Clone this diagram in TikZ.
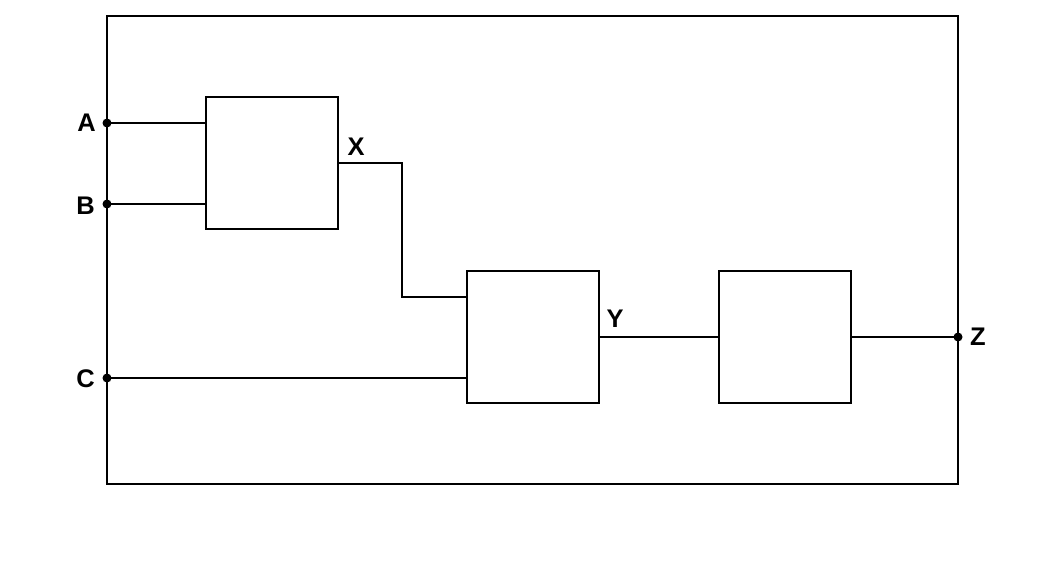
\documentclass[tikz,border=0pt]{standalone}
\usepackage{fontspec}
\setmainfont{Liberation Sans}
\usetikzlibrary{positioning,calc}

\tikzset{
  blk/.style={draw, line width=0.6pt, minimum width=2.64cm, minimum height=2.64cm, inner sep=0pt},
  wire/.style={line width=0.6pt},
  lbl/.style={font=\fontsize{14.5}{16}\selectfont\bfseries, inner sep=0pt},
  pin/.style={circle, fill, inner sep=0pt, minimum size=0.18cm}
}

\begin{document}
\begin{tikzpicture}[x=0.02cm, y=-0.02cm]
          \useasboundingbox (0, 0) rectangle (1050, 575);%
          % outer frame
          \draw [wire] (107, 16) rectangle (958, 484);%
          % blocks
          \node [blk] (g1) at (272, 163) {};%
          \node [blk] (g2) at (533, 337) {};%
          \node [blk] (g3) at (785, 337) {};%
          % terminals
          \node [pin] (pa) at (107, 123) {};%
          \node [pin] (pb) at (107, 204) {};%
          \node [pin] (pc) at (107, 378) {};%
          \node [pin] (pz) at (958, 337) {};%
          \node [lbl] (la) at (86.5, 123) {A};%
          \node [lbl] (lb) at (85.5, 206) {B};%
          \node [lbl] (lc) at (85.5, 379) {C};%
          \node [lbl] (lx) at (356, 147) {X};%
          \node [lbl] (ly) at (615, 319) {Y};%
          \node [lbl] (lz) at (978, 337) {Z};%
          % wires
          \draw [wire] (pa.center) -- (pa.center -| g1.west);%
          \draw [wire] (pb.center) -- (pb.center -| g1.west);%
          \coordinate (xm) at (402, 163);%
          \coordinate (yi) at (467, 297);%
          \draw [wire] (g1.east) -- (xm) |- (yi);%
          \draw [wire] (pc.center) -- (pc.center -| g2.west);%
          \draw [wire] (g2.east) -- (g3.west);%
          \draw [wire] (g3.east) -- (pz.center);%
        \end{tikzpicture}
\end{document}
